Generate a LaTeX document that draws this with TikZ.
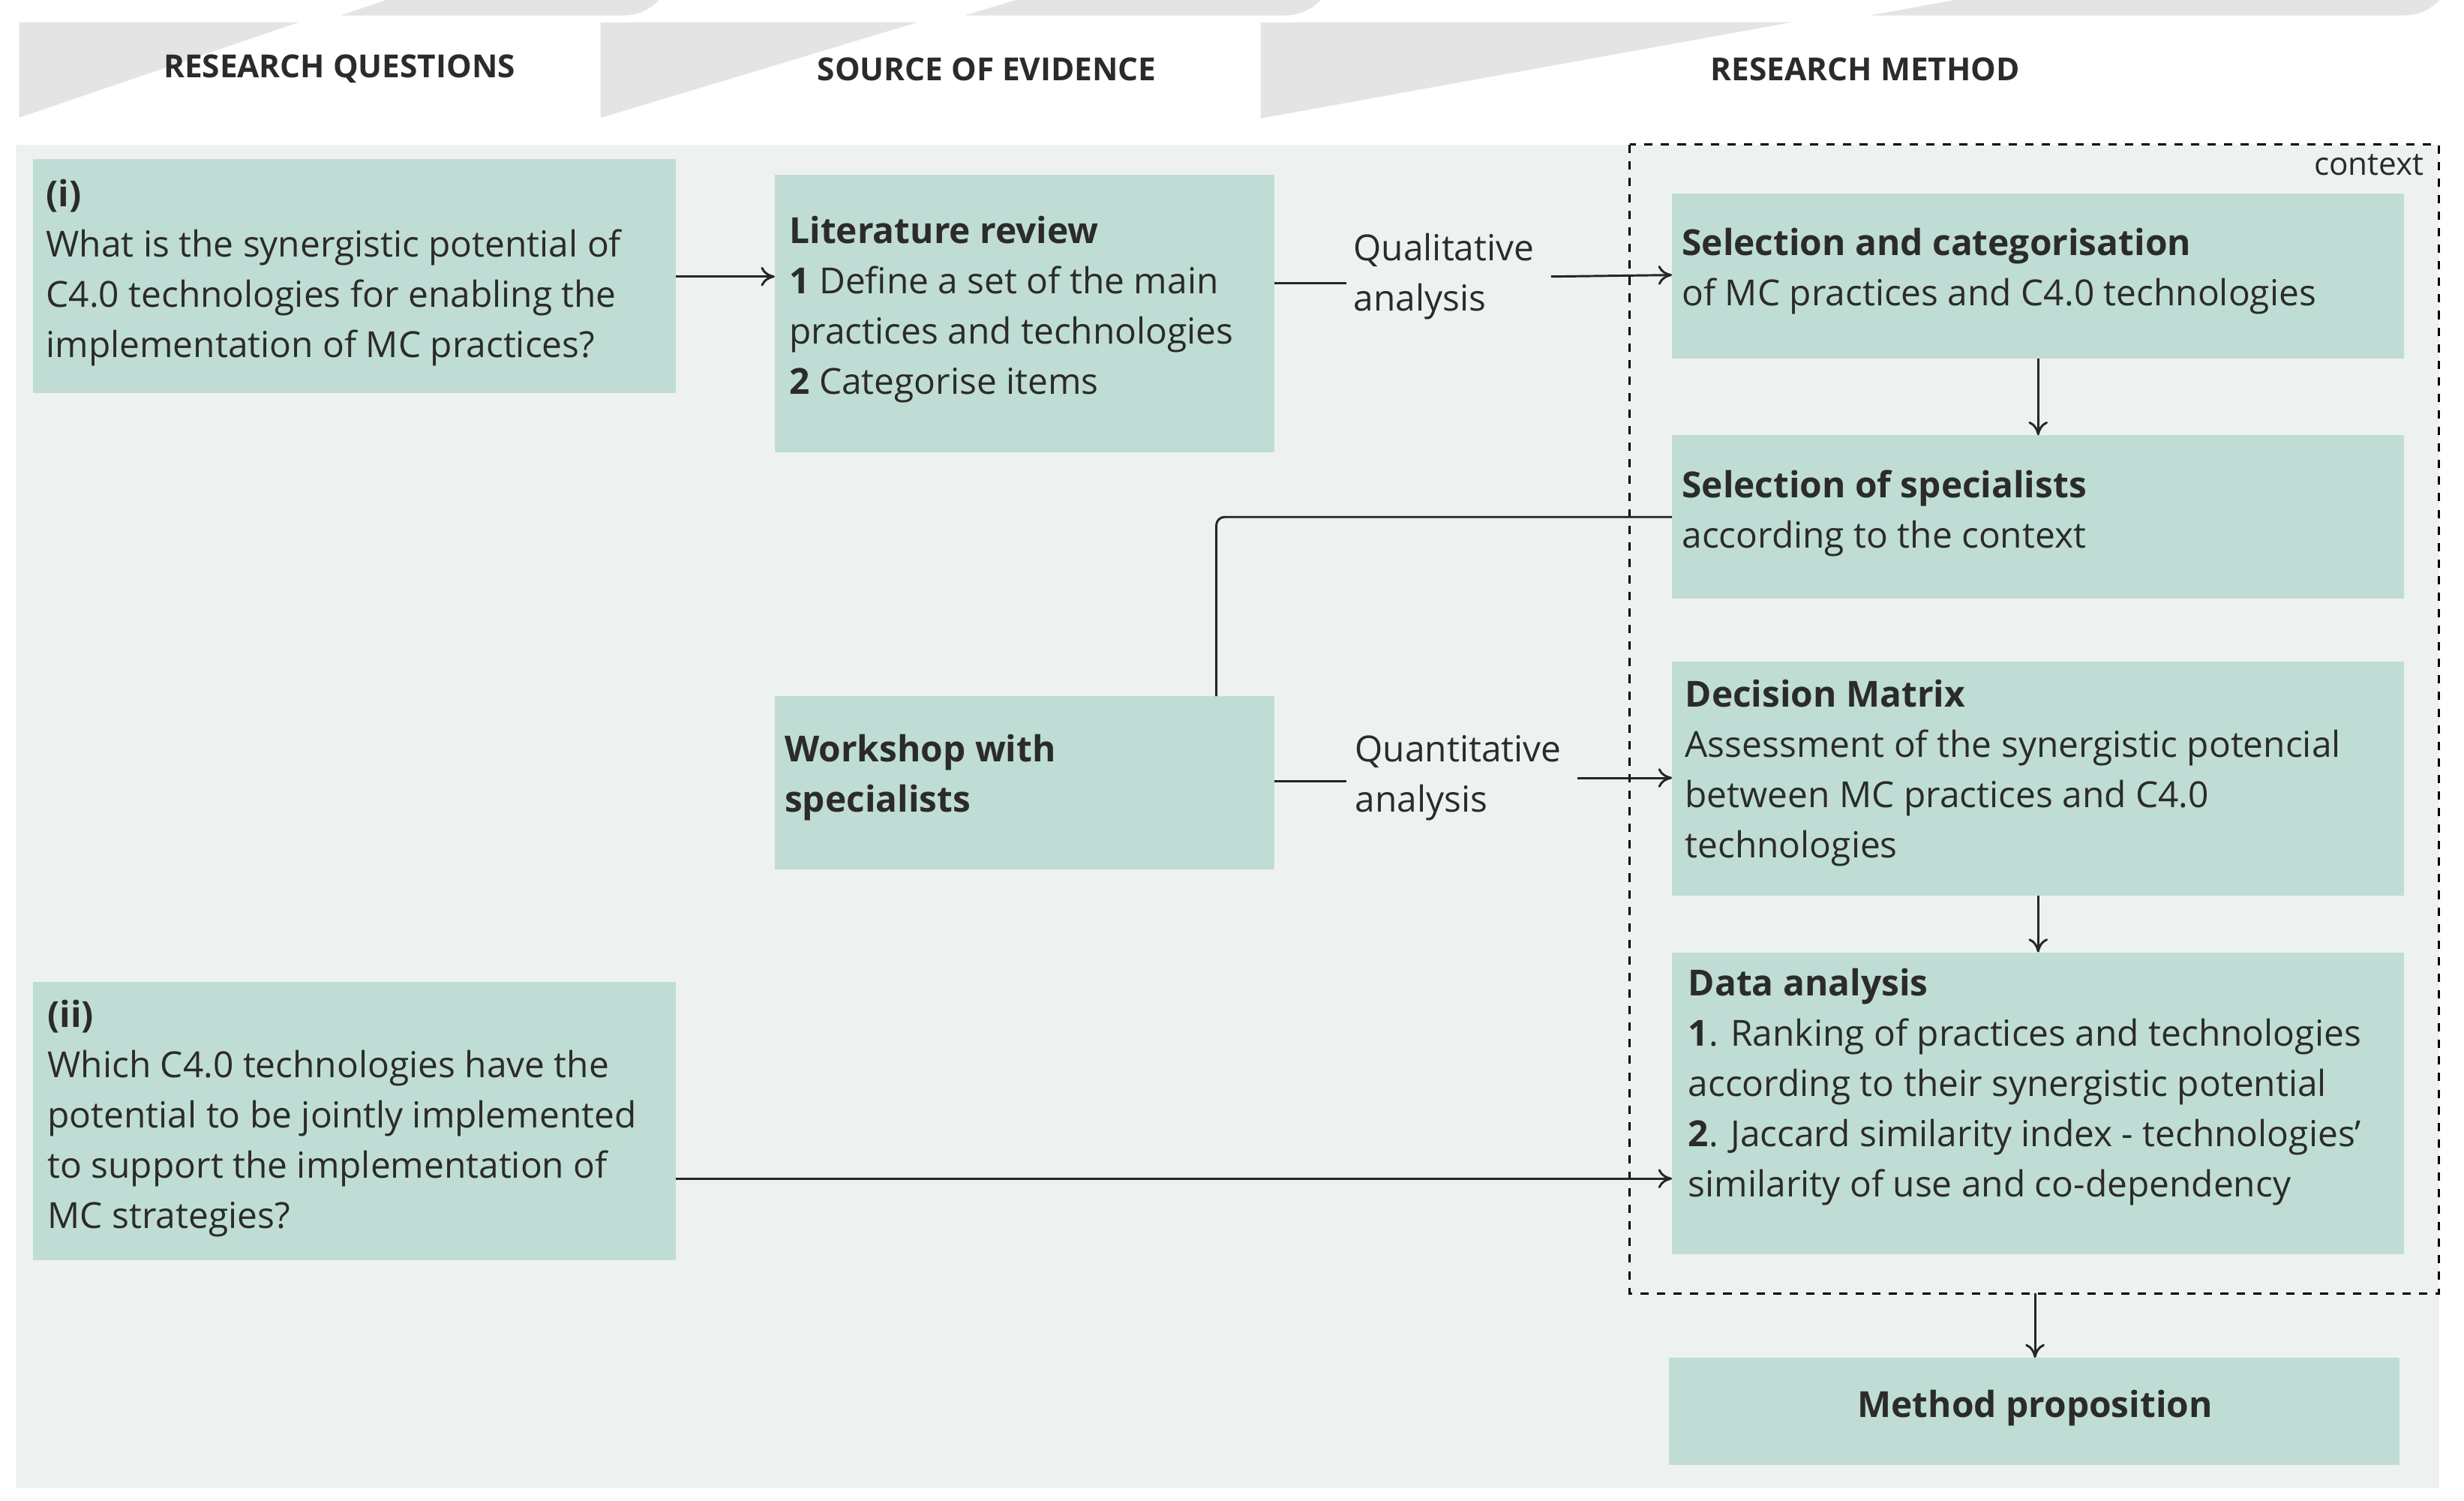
\documentclass[tikz,border=0pt]{standalone}
\usepackage{fontspec}
\setmainfont{Open Sans}
\usetikzlibrary{arrows.meta}
\definecolor{bg}{HTML}{EDF2F0}
\definecolor{bx}{HTML}{C0DDD5}
\definecolor{hd}{HTML}{E4E4E4}
\definecolor{tx}{HTML}{2B2B2B}
\begin{document}
\begin{tikzpicture}[x=0.02cm,y=-0.02cm,
  box/.style={fill=bx,draw=none},
  txt/.style={anchor=north west,align=left,inner sep=0pt,text=tx,font=\fontsize{13}{18.2}\selectfont},
  hdr/.style={fill=hd,draw=white,line width=2.5pt},
  htx/.style={text=tx,font=\fontsize{11.5}{14}\selectfont\bfseries},
  con/.style={draw=black!85,line width=0.8pt},
  arr/.style={con,-{To[length=5pt,width=7pt]}},
  lbl/.style={align=left,text=tx,font=\fontsize{13}{18.2}\selectfont,inner sep=0pt}]
\useasboundingbox (0,0) rectangle (1568,955);
\fill[white] (0,0) rectangle (1568,955);
% headers
\path[hdr] (800,12) -- (1530,12) arc(90:-90:33) -- (800,78) -- cycle;
\path[hdr] (380,12) -- (818,12) arc(90:-90:33) -- (380,78) -- cycle;
\path[hdr] (10,12) -- (397,12) arc(90:-90:33) -- (10,78) -- cycle;
\node[htx] (h1) at (216,44) {RESEARCH QUESTIONS};
\node[htx] (h2) at (628,44) {SOURCE OF EVIDENCE};
\node[htx] (h3) at (1187,44) {RESEARCH METHOD};
% background
\fill[bg] (10,92) rectangle (1552,947);
% boxes
\path[box] (21,101) rectangle (430,250); \coordinate (q1) at (430,176);
\node[txt] (t1) at (29,114) {\textbf{(i)}\\What is the synergistic potential of\\C4.0 technologies for enabling the\\implementation of MC practices?};
\path[box] (21,625) rectangle (430,802); \coordinate (q2) at (430,750);
\node[txt] (t2) at (30,636) {\textbf{(ii)}\\Which C4.0 technologies have the\\potential to be jointly implemented\\to support the implementation of\\MC strategies?};
\path[box] (493,111) rectangle (811,288);
\node[txt] (t3) at (502,137) {\textbf{Literature review}\\\textbf{1} Define a set of the main\\practices and technologies\\\textbf{2} Categorise items};
\path[box] (493,443) rectangle (811,553);
\node[txt] (t4) at (499,467) {\textbf{Workshop with}\\\textbf{specialists}};
\draw[dashed,line width=0.8pt] (1037,92) rectangle (1552,823);
\node[anchor=north east,inner sep=0pt,text=tx,font=\fontsize{11.5}{14}\selectfont] (ctx) at (1543,98) {context};
\path[box] (1064,123) rectangle (1530,228);
\node[txt] (t5) at (1070,145) {\textbf{Selection and categorisation}\\of MC practices and C4.0 technologies};
\path[box] (1064,277) rectangle (1530,381);
\node[txt] (t6) at (1070,299) {\textbf{Selection of specialists}\\according to the context};
\path[box] (1064,421) rectangle (1530,570);
\node[txt] (t7) at (1072,432) {\textbf{Decision Matrix}\\Assessment of the synergistic potencial\\between MC practices and C4.0\\technologies};
\path[box] (1064,606) rectangle (1530,798);
\node[txt] (t8) at (1074,616) {\textbf{Data analysis}\\\textbf{1}. Ranking of practices and technologies\\according to their synergistic potential\\\textbf{2}. Jaccard similarity index - technologies'\\similarity of use and co-dependency};
\path[box] (1062,864) rectangle (1527,932);
\node[txt,anchor=center] (t9) at (1295,896) {\textbf{Method proposition}};
% labels
\node[lbl,anchor=west] (l1) at (861,176) {Qualitative\\analysis};
\node[lbl,anchor=west] (l2) at (862,495) {Quantitative\\analysis};
% connectors
\coordinate (a1) at (493,176);
\draw[arr] (q1) -- (a1);
\coordinate (b1) at (811,180); \coordinate (b2) at (857,180);
\draw[con] (b1) -- (b2);
\coordinate (c1) at (987,176); \coordinate (c2) at (1064,175);
\draw[arr] (c1) -- (c2);
\coordinate (d1) at (1297,228); \coordinate (d2) at (1297,277);
\draw[arr] (d1) -- (d2);
\coordinate (e1) at (774,443); \coordinate (e2) at (1064,329);
\draw[con,rounded corners=3pt] (e1) |- (e2);
\coordinate (f1) at (811,497); \coordinate (f2) at (857,497);
\draw[con] (f1) -- (f2);
\coordinate (g1) at (1004,495); \coordinate (g2) at (1064,495);
\draw[arr] (g1) -- (g2);
\coordinate (i1) at (1297,570); \coordinate (i2) at (1297,606);
\draw[arr] (i1) -- (i2);
\coordinate (j2) at (1064,750);
\draw[arr] (q2) -- (j2);
\coordinate (k1) at (1295,823); \coordinate (k2) at (1295,864);
\draw[arr] (k1) -- (k2);
\end{tikzpicture}
\end{document}
